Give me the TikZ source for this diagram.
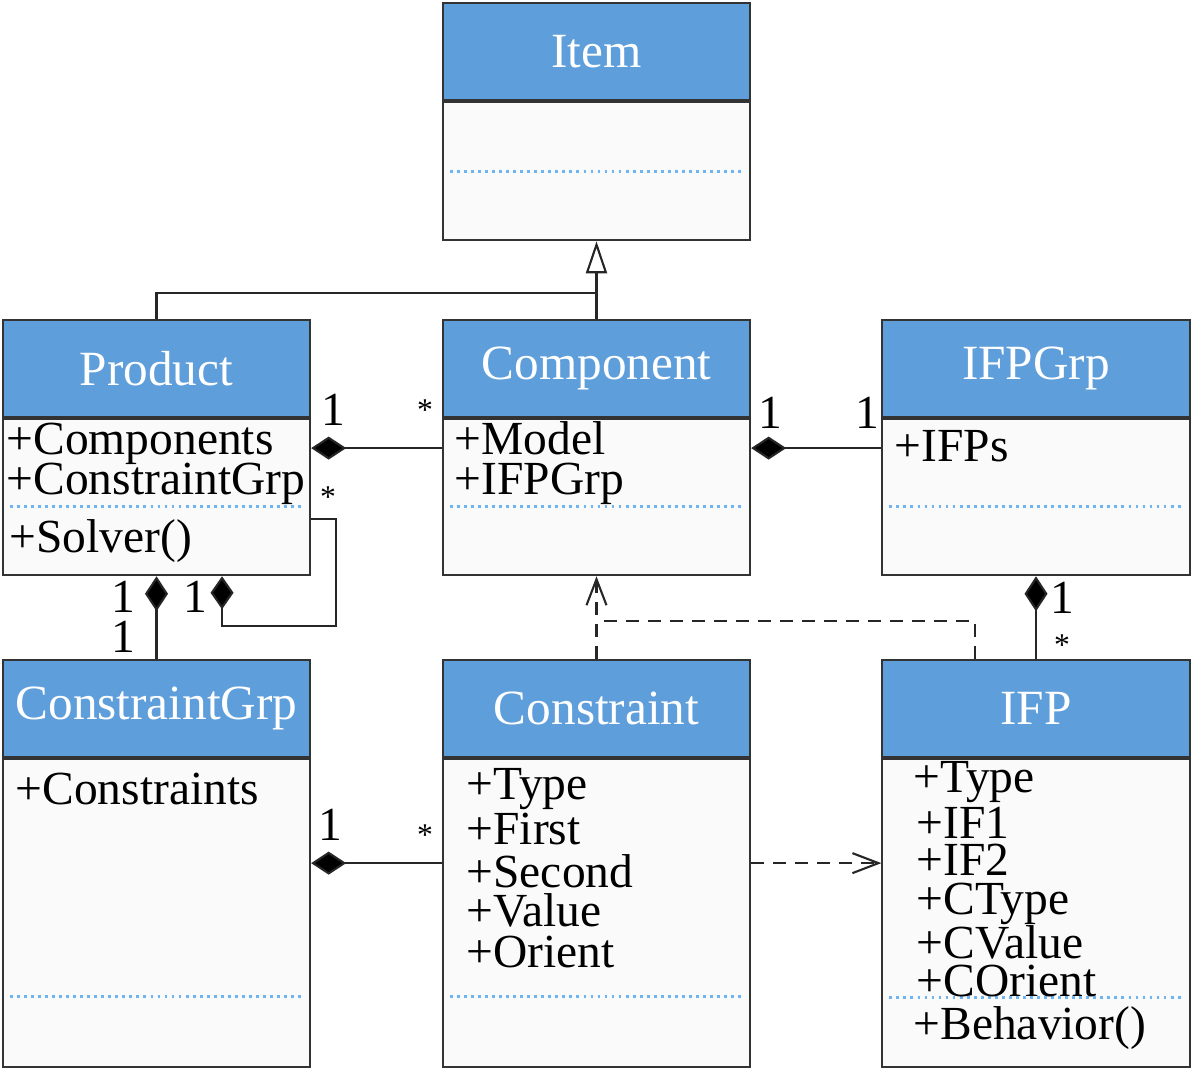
\documentclass[tikz,border=0pt]{standalone}
\usepackage{fontspec}
\setmainfont{Liberation Serif}
\usepackage{tikz}
\usetikzlibrary{positioning,arrows.meta}

\definecolor{headblue}{RGB}{94,158,218}
\definecolor{sepblue}{RGB}{110,180,240}
\definecolor{bodygray}{RGB}{250,250,250}

\begin{document}
\begin{tikzpicture}[
    x=0.01cm, y=-0.01cm,
    classhead/.style={rectangle, draw=black!80, fill=headblue, text=white, line width=0.6pt,
        minimum width=3.07cm, minimum height=0.97cm, inner sep=0pt, font=\fontsize{14}{16}\selectfont},
    classbody/.style={rectangle, draw=black!80, fill=bodygray, line width=0.6pt,
        minimum width=3.07cm, inner sep=0pt},
    attr/.style={anchor=base west, inner sep=0pt, text height=0.62em, text depth=0.12em,
        font=\fontsize{13.5}{16}\selectfont},
    mult/.style={inner sep=0pt, font=\fontsize{13.5}{16}\selectfont},
    many/.style={inner sep=0pt, font=\fontsize{9}{10}\selectfont},
    sepline/.style={draw=sepblue, line width=0.8pt, dash pattern=on 0.8pt off 1.2pt},
    link/.style={draw=black!85, line width=0.6pt},
    comp/.style={link, {Diamond[length=0.35cm, width=0.23cm, fill=black]}-},
    dep/.style={link, dash pattern=on 0.13cm off 0.09cm, -{Straight Barb[length=0.26cm, width=0.2cm]}}
    ]
        \useasboundingbox (0,0) rectangle (1200,1068);

        %Classes
        \node[classhead] (item) at (596.5,51.5) {Item};
        \node[classbody, minimum height=1.38cm, below=0pt of item] (itemBody) {};

        \node[classhead] (product) at (156.5,368.5) {Product};
        \node[classbody, minimum height=1.56cm, below=0pt of product] (productBody) {};
        \node[classhead] (component) at (596.5,368.5) {Component};
        \node[classbody, minimum height=1.56cm, below=0pt of component] (componentBody) {};
        \node[classhead] (ifpgrp) at (1036,368.5) {IFPGrp};
        \node[classbody, minimum height=1.56cm, below=0pt of ifpgrp] (ifpgrpBody) {};

        \node[classhead] (cgrp) at (156.5,708.5) {ConstraintGrp};
        \node[classbody, minimum height=3.08cm, below=0pt of cgrp] (cgrpBody) {};
        \node[classhead] (constraint) at (596.5,708.5) {Constraint};
        \node[classbody, minimum height=3.08cm, below=0pt of constraint] (constraintBody) {};
        \node[classhead] (ifp) at (1036,708.5) {IFP};
        \node[classbody, minimum height=3.08cm, below=0pt of ifp] (ifpBody) {};

        %Separators
        \foreach \b/\d in {itemBody/0.70, productBody/0.88, componentBody/0.88, ifpgrpBody/0.88,
                           cgrpBody/2.38, constraintBody/2.38, ifpBody/2.39}
            \draw[sepline] ([xshift=0.08cm, yshift=-\d cm]\b.north west)
                        -- ([xshift=-0.08cm, yshift=-\d cm]\b.north east);

        %Attributes
        \node[attr] (pComps)  at (6,455)   {+Components};
        \node[attr] (pCgrp)   at (6,495)   {+ConstraintGrp};
        \node[attr] (pSolver) at (9,553)   {+Solver()};
        \node[attr] (cModel)  at (454,455) {+Model};
        \node[attr] (cIfpgrp) at (454,495) {+IFPGrp};
        \node[attr] (gIfps)   at (894,462) {+IFPs};
        \node[attr] (kCons)   at (15,805)  {+Constraints};
        \node[attr] (sType)   at (466,800) {+Type};
        \node[attr] (sFirst)  at (466,845) {+First};
        \node[attr] (sSecond) at (466,888) {+Second};
        \node[attr] (sValue)  at (466,927) {+Value};
        \node[attr] (sOrient) at (466,968) {+Orient};
        \node[attr] (fType)   at (913,793) {+Type};
        \node[attr] (fIf1)    at (916,839) {+IF1};
        \node[attr] (fIf2)    at (916,876) {+IF2};
        \node[attr] (fCtype)  at (916,915) {+CType};
        \node[attr] (fCvalue) at (916,959) {+CValue};
        \node[attr] (fCorient)at (916,997) {+COrient};
        \node[attr] (fBehav)  at (913,1040) {+Behavior()};

        %Lines
        \coordinate (inhJoin) at (596.5,293);
        \draw[link, -{Triangle[open, length=0.32cm, width=0.21cm]}] (component.north) -- (itemBody.south);
        \draw[link] (product.north) |- (inhJoin);

        \draw[comp] ([yshift=-0.3cm]productBody.north east) -- ([yshift=-0.3cm]componentBody.north west);
        \draw[comp] ([yshift=-0.3cm]componentBody.north east) -- ([yshift=-0.3cm]ifpgrpBody.north west);
        \draw[comp] (productBody.south) -- (cgrp.north);
        \draw[link, -{Diamond[length=0.33cm, width=0.23cm, fill=black]}]
            ([yshift=-1.01cm]productBody.north east) -| ++(25,107) -| ([xshift=0.655cm]productBody.south);
        \draw[comp] ([yshift=-1.05cm]cgrpBody.north east) -- ([yshift=-1.05cm]constraintBody.north west);
        \draw[comp] (ifpgrpBody.south) -- (ifp.north);

        \draw[dep] (constraint.north) -- (componentBody.south);
        \draw[dep, -] ([xshift=-0.61cm]ifp.north) |- ([yshift=0.38cm]constraint.north);
        \draw[dep] ([yshift=-1.05cm]constraintBody.north east) -- ([yshift=-1.05cm]ifpBody.north west);

        %Multiplicities
        \node[mult] (m1) at (333,410) {1};
        \node[many] (m2) at (425,410) {*};
        \node[mult] (m3) at (770,413) {1};
        \node[mult] (m4) at (867,413) {1};
        \node[many] (m5) at (328,497) {*};
        \node[mult] (m6) at (195,597) {1};
        \node[mult] (m7) at (123,597) {1};
        \node[mult] (m8) at (123,637) {1};
        \node[mult] (m9) at (1062,598) {1};
        \node[many] (m10) at (1062,645) {*};
        \node[mult] (m11) at (330,825) {1};
        \node[many] (m12) at (425,835) {*};
    \end{tikzpicture}
\end{document}
